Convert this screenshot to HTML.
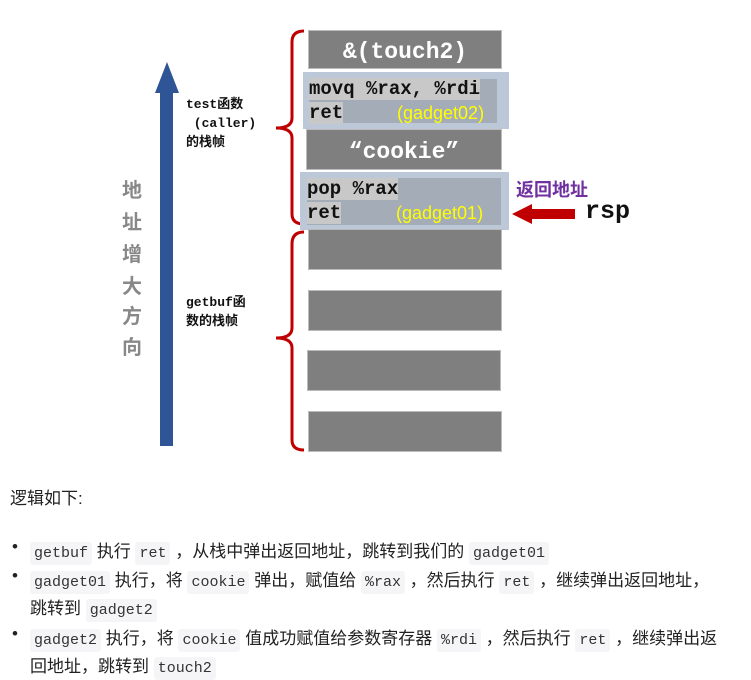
<!DOCTYPE html>
<html><head><meta charset="utf-8"><style>
body{margin:0;width:751px;height:676px;background:#fff;position:relative;overflow:hidden;font-family:"Liberation Sans","Noto Sans CJK SC",sans-serif}
.a{position:absolute}
.g{position:absolute;background:#7f7f7f;border:1px solid #bbb;box-sizing:border-box}
.m{font-family:"Liberation Mono","DejaVu Sans Mono","Noto Sans CJK SC",monospace}
.cn{position:absolute;color:#888;font-weight:bold;font-size:20px;left:122px}
.t{position:absolute;left:10px;font-size:17px;color:#222;white-space:nowrap}
code{font-family:"Liberation Mono","DejaVu Sans Mono",monospace;font-size:15px;background:#f5f5f7;padding:3px 4px;border-radius:3px;color:#333}
.b{position:absolute;left:12px;font-size:17px;color:#222}
</style></head><body>
<svg class="a" style="left:0;top:0" width="751" height="470">
<polygon points="155,93 167,62 179,93" fill="#2f5597"/>
<rect x="160" y="92" width="13" height="354" fill="#2f5597"/>
<path d="M304,31 Q292,31 292,42 L292,118 Q292,128 276,128 Q292,128 292,138 L292,214 Q292,224 304,224" fill="none" stroke="#c00000" stroke-width="3"/>
<path d="M304,232 Q292,232 292,244 L292,328 Q292,338 276,338 Q292,338 292,348 L292,440 Q292,450 304,450" fill="none" stroke="#c00000" stroke-width="3"/>
<polygon points="512,214 532,204 532,209 575,209 575,219 532,219 532,224" fill="#c00000"/>
</svg>
<div class="cn" style="top:174px">地</div>
<div class="cn" style="top:206px">址</div>
<div class="cn" style="top:238px">增</div>
<div class="cn" style="top:270px">大</div>
<div class="cn" style="top:300px">方</div>
<div class="cn" style="top:331px">向</div>
<div class="a m" style="left:186px;top:95px;font-size:13px;font-weight:bold;line-height:19px;color:#111">test函数<br>&nbsp;(caller)<br>的栈帧</div>
<div class="a m" style="left:186px;top:293px;font-size:13px;font-weight:bold;line-height:19px;color:#111">getbuf函<br>数的栈帧</div>
<div class="g" style="left:308px;top:30px;width:194px;height:39px;color:#fff;font-weight:bold;font-size:23px;text-align:center;line-height:38px" ><span class="m">&amp;(touch2)</span></div>
<div class="a" style="left:303px;top:72px;width:206px;height:57px;background:#bcc8d8"></div>
<div class="a" style="left:309px;top:79px;width:188px;height:44px;background:#a3acb7"></div>
<div class="a m" style="left:309px;top:77px;font-size:19px;font-weight:bold;line-height:24px;color:#111"><span style="background:#c8c8c8">movq %rax, %rdi</span><br><span style="background:#c8c8c8">ret</span></div>
<div class="a" style="left:397px;top:103px;font-size:18px;color:#ff0">(gadget02)</div>
<div class="g" style="left:306px;top:129px;width:196px;height:41px;color:#fff;font-weight:bold;font-size:23px;text-align:center;line-height:40px"><span class="m">“cookie”</span></div>
<div class="a" style="left:300px;top:172px;width:209px;height:58px;background:#bcc8d8"></div>
<div class="a" style="left:307px;top:178px;width:194px;height:47px;background:#a3acb7"></div>
<div class="a m" style="left:307px;top:177px;font-size:19px;font-weight:bold;line-height:24px;color:#111"><span style="background:#c8c8c8">pop %rax</span><br><span style="background:#c8c8c8">ret</span></div>
<div class="a" style="left:396px;top:203px;font-size:18px;color:#ff0">(gadget01)</div>
<div class="a" style="left:516px;top:176px;font-size:18px;font-weight:bold;color:#7030a0">返回地址</div>
<div class="a m" style="left:585px;top:197px;font-size:25px;font-weight:bold;color:#111">rsp</div>
<div class="g" style="left:308px;top:229px;width:194px;height:41px"></div>
<div class="g" style="left:308px;top:290px;width:194px;height:41px"></div>
<div class="g" style="left:307px;top:350px;width:194px;height:41px"></div>
<div class="g" style="left:308px;top:411px;width:194px;height:41px"></div>
<div class="t" style="top:484px">逻辑如下:</div>
<div class="b" style="top:537px">•</div>
<div class="t" style="left:30px;top:537px"><code>getbuf</code> 执行 <code>ret</code> ，从栈中弹出返回地址，跳转到我们的 <code>gadget01</code></div>
<div class="b" style="top:566px">•</div>
<div class="t" style="left:30px;top:566px"><code>gadget01</code> 执行，将 <code>cookie</code> 弹出，赋值给 <code>%rax</code> ，然后执行 <code>ret</code> ，继续弹出返回地址，</div>
<div class="t" style="left:30px;top:594px">跳转到 <code>gadget2</code></div>
<div class="b" style="top:624px">•</div>
<div class="t" style="left:30px;top:624px"><code>gadget2</code> 执行，将 <code>cookie</code> 值成功赋值给参数寄存器 <code>%rdi</code> ，然后执行 <code>ret</code> ，继续弹出返</div>
<div class="t" style="left:30px;top:652px">回地址，跳转到 <code>touch2</code></div>
</body></html>
